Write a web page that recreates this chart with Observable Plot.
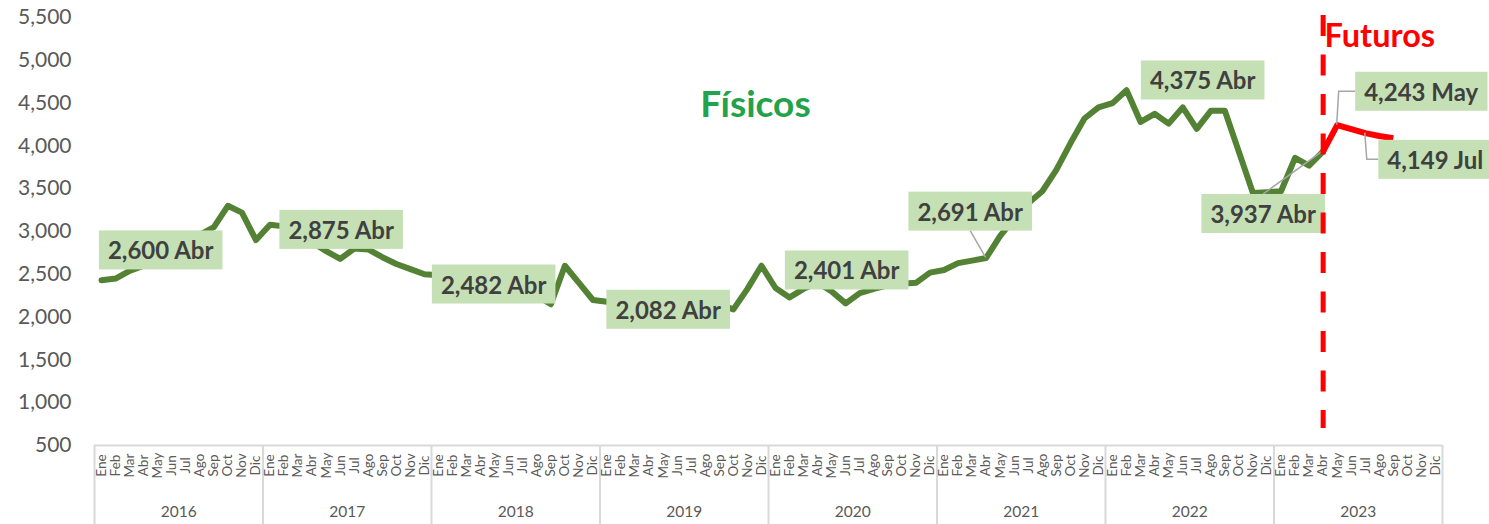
<!DOCTYPE html>
<html>
<head>
<meta charset="utf-8">
<script src="https://cdn.jsdelivr.net/npm/d3@7"></script>
<script src="https://cdn.jsdelivr.net/npm/@observablehq/plot@0.6"></script>
<style>
  html, body { margin: 0; padding: 0; background: #ffffff; overflow: hidden; }
  #chart { width: 1489px; height: 524px; }
</style>
</head>
<body>
<div id="chart"></div>
<script>
// ---------- DATA ----------
const monthNames = ["Ene","Feb","Mar","Abr","May","Jun","Jul","Ago","Sep","Oct","Nov","Dic"];
const years = [2016, 2017, 2018, 2019, 2020, 2021, 2022, 2023];
const yTicks = [500, 1000, 1500, 2000, 2500, 3000, 3500, 4000, 4500, 5000, 5500];

// Físicos: monthly, Ene 2016 .. Abr 2023
const fisicos = [
  2430, 2450, 2540, 2600, 2700, 2780, 2870, 2960, 3050, 3300, 3220, 2900, // 2016
  3080, 3060, 2960, 2875, 2770, 2680, 2800, 2790, 2700, 2620, 2560, 2500, // 2017
  2490, 2470, 2460, 2482, 2440, 2400, 2350, 2250, 2150, 2600, 2400, 2200, // 2018
  2180, 2170, 2110, 2082, 2150, 2200, 2280, 2200, 2150, 2090, 2330, 2600, // 2019
  2340, 2230, 2330, 2401, 2300, 2160, 2280, 2330, 2370, 2390, 2400, 2520, // 2020
  2550, 2630, 2660, 2691, 2950, 3150, 3330, 3470, 3720, 4030, 4320, 4450, // 2021
  4500, 4650, 4280, 4375, 4260, 4450, 4200, 4410, 4410, 3930, 3450, 3460, // 2022
  3470, 3860, 3770, 3937                                                    // 2023
];
// Futuros: Abr 2023 .. Sep 2023
const futurosStart = 87; // index of Abr 2023
const futuros = [3937, 4243, 4195, 4149, 4115, 4090];

// labelled points (month index from Ene 2016)
const labelIdx = [3, 15, 27, 39, 51, 63, 75, 87, 88, 90];

// ---------- LAYOUT (pixel offsets of label boxes from their points) ----------
const labelLayout = [
  {dx: 17, dy: -14},
  {dx: 29, dy: -11},
  {dx: 13, dy: 10},
  {dx: 19, dy: 1},
  {dx: 29, dy: -11},
  {dx: -16, dy: -45, leader: "bottom"},
  {dx: 48, dy: -32},
  {dx: -60, dy: 64, leader: "top"},
  {dx: 84, dy: -32, leader: "elbow"},
  {dx: 70, dy: 28, leader: "elbow"}
];

// ---------- BUILD ----------
const fisData = fisicos.map((v, i) => ({i, v}));
const futData = futuros.map((v, k) => ({i: futurosStart + k, v}));
const allVals = new Map();
fisData.forEach(d => allVals.set(d.i, d.v));
futData.forEach(d => allVals.set(d.i, d.v));
const fmt = d3.format(",");
const labels = labelIdx.map((i, k) => ({
  i, v: allVals.get(i), text: fmt(allVals.get(i)) + " " + monthNames[i % 12], ...labelLayout[k]
}));
const monthIdx = d3.range(years.length * 12);
const yearBounds = d3.range(years.length + 1).map(k => k * 12 - 0.5);

const GREY = "#595959";
const marks = [
  Plot.axisY(yTicks, {tickSize: 0, tickPadding: 23, tickFormat: fmt, fontSize: 21, color: GREY, label: null}),
  Plot.ruleY([500], {stroke: "#d9d9d9", strokeWidth: 2}),
  Plot.ruleX(yearBounds, {x: d => d, y1: 500, y2: 500, insetBottom: -79, stroke: "#d9d9d9", strokeWidth: 2}),
  Plot.text(monthIdx, {x: d => d, y: 500, dy: 20, text: d => monthNames[d % 12], rotate: -90, textAnchor: "middle", fontSize: 13.5, fill: GREY}),
  Plot.text(years, {x: d => (d - years[0]) * 12 + 5.5, y: 500, dy: 67, text: d => String(d), fontSize: 15.5, fill: GREY}),
  Plot.line(fisData, {x: "i", y: "v", stroke: "#548235", strokeWidth: 6, strokeLinejoin: "round", strokeLinecap: "round"}),
  Plot.line(futData, {x: "i", y: "v", stroke: "#ff0000", strokeWidth: 6, strokeLinejoin: "round", strokeLinecap: "butt"}),
  ...labels.map(l => Plot.text([l], {
    x: "i", y: "v", text: "text", dx: l.dx, dy: l.dy, fontSize: 24, fontWeight: "bold",
    fill: "#404040", textAnchor: "middle", lineAnchor: "middle"
  })),
  Plot.text(["Físicos"], {frameAnchor: "top-left", dx: 661, dy: 88, text: d => d, fontSize: 37, fontWeight: "bold", fill: "#22a24a", textAnchor: "middle", lineAnchor: "middle"}),
  Plot.text(["Futuros"], {frameAnchor: "top-left", dx: 1230, dy: 19, text: d => d, fontSize: 32.5, fontWeight: "bold", fill: "#ff0000", textAnchor: "start", lineAnchor: "middle"}),
  Plot.ruleX([futurosStart], {x: d => d, y1: 5500, y2: 500, insetTop: -2, insetBottom: 17, stroke: "#ff0000", strokeWidth: 5, strokeDasharray: "21,18.5"})
];

const chart = Plot.plot({
  width: 1489,
  height: 524,
  marginLeft: 94,
  marginRight: 47,
  marginTop: 17,
  marginBottom: 79,
  style: {fontFamily: "Lato, 'Open Sans', sans-serif", background: "#ffffff", overflow: "hidden"},
  x: {domain: [-0.5, years.length * 12 - 0.5], axis: null},
  y: {domain: [500, 5500]},
  marks
});
document.getElementById("chart").append(chart);

// ---------- label boxes and leader lines ----------
const xs = chart.scale("x"), ys = chart.scale("y");
const NS = "http://www.w3.org/2000/svg";
const allTexts = Array.from(chart.querySelectorAll("text"));
const leaderG = document.createElementNS(NS, "g");
let inserted = false;
labels.forEach(l => {
  const t = allTexts.find(e => e.textContent === l.text);
  if (!t) return;
  const g = t.parentNode;
  if (!inserted) { g.parentNode.insertBefore(leaderG, g); inserted = true; }
  const b = t.getBBox();
  const padX = 9, padY = 5;
  const r = document.createElementNS(NS, "rect");
  r.setAttribute("x", b.x - padX);
  r.setAttribute("y", b.y - padY);
  r.setAttribute("width", b.width + 2 * padX);
  r.setAttribute("height", b.height + 2 * padY);
  r.setAttribute("fill", "#c5e0b4");
  if (t.getAttribute("transform")) r.setAttribute("transform", t.getAttribute("transform"));
  g.insertBefore(r, t);
  const m = t.getCTM();
  const bx = m.e + b.x - padX, by = m.f + b.y - padY, bw = b.width + 2 * padX, bh = b.height + 2 * padY;
  if (!l.leader) return;
  const px = xs.apply(l.i), py = ys.apply(l.v);
  let pts;
  if (l.leader === "bottom") pts = [[px, py], [bx + bw / 2, by + bh]];
  else if (l.leader === "top") pts = [[px, py], [bx + bw / 2, by]];
  else pts = [[px, py], [px + 2, by + bh / 2], [bx, by + bh / 2]];
  const p = document.createElementNS(NS, "path");
  p.setAttribute("d", "M" + pts.map(q => q.join(",")).join("L"));
  p.setAttribute("fill", "none");
  p.setAttribute("stroke", "#a6a6a6");
  p.setAttribute("stroke-width", 1.5);
  leaderG.appendChild(p);
});
</script>
</body>
</html>
